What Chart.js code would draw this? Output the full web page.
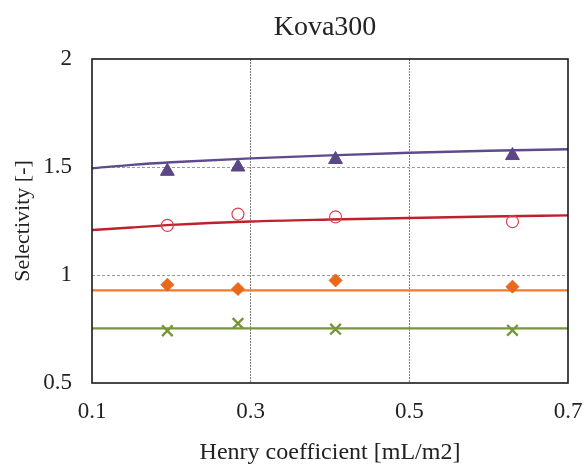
<!DOCTYPE html>
<html>
<head>
<meta charset="utf-8">
<script src="https://cdn.jsdelivr.net/npm/chart.js@4/dist/chart.umd.min.js"></script>
<style>
  html, body { margin: 0; padding: 0; background: #ffffff; }
  #wrap { width: 584px; height: 467px; }
</style>
</head>
<body>
<div id="wrap"><canvas id="c" width="584" height="467"></canvas></div>
<script>
// ---- data ----
const chartTitle = 'Kova300';
const xAxisTitle = 'Henry coefficient [mL/m2]';
const yAxisTitle = 'Selectivity [-]';
const xTicks = [0.1, 0.3, 0.5, 0.7];
const yTicks = [0.5, 1, 1.5, 2];

const henryMeasured = [0.195, 0.284, 0.407, 0.630];
const selTriangle = [1.48, 1.50, 1.535, 1.553];
const selCircle = [1.230, 1.282, 1.269, 1.247];
const selDiamond = [0.955, 0.935, 0.975, 0.946];
const selCross = [0.742, 0.776, 0.749, 0.744];

const henryModel = [0.1, 0.15, 0.2, 0.3, 0.4, 0.5, 0.6, 0.7];
const modelPurple = [1.494, 1.510, 1.522, 1.540, 1.554, 1.566, 1.575, 1.582];
const modelRed = [1.208, 1.220, 1.232, 1.248, 1.257, 1.264, 1.271, 1.276];
const modelOrange = [0.929, 0.929, 0.929, 0.929, 0.929, 0.929, 0.929, 0.929];
const modelGreen = [0.753, 0.753, 0.753, 0.753, 0.753, 0.753, 0.753, 0.753];

const pts = (xs, ys) => xs.map((x, i) => ({ x: x, y: ys[i] }));

const FONT = "'Liberation Serif', 'Times New Roman', serif";

const boxPlugin = {
  id: 'boxAndTitle',
  afterDatasetsDraw(chart) {
    const { ctx, chartArea: a } = chart;
    ctx.save();
    ctx.strokeStyle = '#1a1a1a';
    ctx.lineWidth = 1.6;
    ctx.strokeRect(a.left, a.top, a.right - a.left, a.bottom - a.top);
    ctx.restore();
  },
  afterDraw(chart) {
    const { ctx } = chart;
    ctx.save();
    ctx.fillStyle = '#222222';
    ctx.font = '28px ' + FONT;
    ctx.textAlign = 'center';
    ctx.textBaseline = 'middle';
    ctx.fillText(chartTitle, 325, 28);
    ctx.restore();
  }
};

const lineDs = (data, color) => ({
  data: pts(henryModel, data),
  showLine: true,
  borderColor: color,
  borderWidth: 2.4,
  pointRadius: 0,
  pointHoverRadius: 0,
  cubicInterpolationMode: 'monotone',
  fill: false,
  order: 2
});

new Chart(document.getElementById('c'), {
  type: 'scatter',
  data: {
    datasets: [
      lineDs(modelPurple, '#5f4b8b'),
      lineDs(modelRed, '#c0202c'),
      lineDs(modelOrange, '#f07a2e'),
      lineDs(modelGreen, '#77963a'),
      {
        data: pts(henryMeasured, selTriangle),
        pointStyle: 'triangle', pointRadius: 8,
        backgroundColor: '#5b4686', borderColor: '#5b4686', borderWidth: 1, order: 0
      },
      {
        data: pts(henryMeasured, selCircle),
        pointStyle: 'circle', pointRadius: 6,
        backgroundColor: 'rgba(255,255,255,0)', borderColor: '#d8424f', borderWidth: 1.2, order: 0
      },
      {
        data: pts(henryMeasured, selDiamond),
        pointStyle: 'rectRot', pointRadius: 6.5,
        backgroundColor: '#e8691c', borderColor: '#e8691c', borderWidth: 1, order: 0
      },
      {
        data: pts(henryMeasured, selCross),
        pointStyle: 'crossRot', pointRadius: 7.5,
        backgroundColor: '#77963a', borderColor: '#77963a', borderWidth: 2.4, order: 0
      }
    ]
  },
  options: {
    responsive: false,
    animation: false,
    devicePixelRatio: 1,
    layout: { padding: { top: 59, right: 16, bottom: 0, left: 0 } },
    plugins: {
      legend: { display: false },
      title: { display: false },
      tooltip: { enabled: false }
    },
    scales: {
      x: {
        type: 'linear',
        min: 0.1, max: 0.7,
        afterBuildTicks(scale) { scale.ticks = xTicks.map(v => ({ value: v })); },
        afterFit(scale) { scale.height = 84; scale.paddingLeft = 0; scale.paddingRight = 0; },
        grid: {
          drawTicks: false,
          lineWidth: 1,
          color: (c) => (c.tick && (Math.abs(c.tick.value - 0.3) < 1e-9 || Math.abs(c.tick.value - 0.5) < 1e-9)) ? '#7f7f7f' : 'rgba(0,0,0,0)'
        },
        border: { display: false, dash: [2, 1] },
        ticks: {
          padding: 15,
          color: '#222222',
          font: { family: FONT, size: 23 },
          maxRotation: 0,
          callback: (v) => String(v)
        },
        title: {
          display: true,
          text: xAxisTitle,
          color: '#222222',
          font: { family: FONT, size: 24 },
          padding: { top: 0, bottom: 0 }
        }
      },
      y: {
        type: 'linear',
        min: 0.5, max: 2,
        afterBuildTicks(scale) { scale.ticks = yTicks.map(v => ({ value: v })); },
        afterFit(scale) { scale.width = 92; scale.paddingTop = 0; scale.paddingBottom = 0; },
        grid: {
          drawTicks: false,
          lineWidth: 1,
          color: (c) => (c.tick && (Math.abs(c.tick.value - 1) < 1e-9 || Math.abs(c.tick.value - 1.5) < 1e-9)) ? '#9a9a9a' : 'rgba(0,0,0,0)'
        },
        border: { display: false, dash: [3, 2] },
        ticks: {
          padding: 20,
          color: '#222222',
          font: { family: FONT, size: 23 },
          callback: (v) => String(v)
        },
        title: {
          display: true,
          text: yAxisTitle,
          color: '#222222',
          font: { family: FONT, size: 22 },
          padding: { top: 10, bottom: 0 }
        }
      }
    }
  },
  plugins: [boxPlugin]
});
</script>
</body>
</html>
